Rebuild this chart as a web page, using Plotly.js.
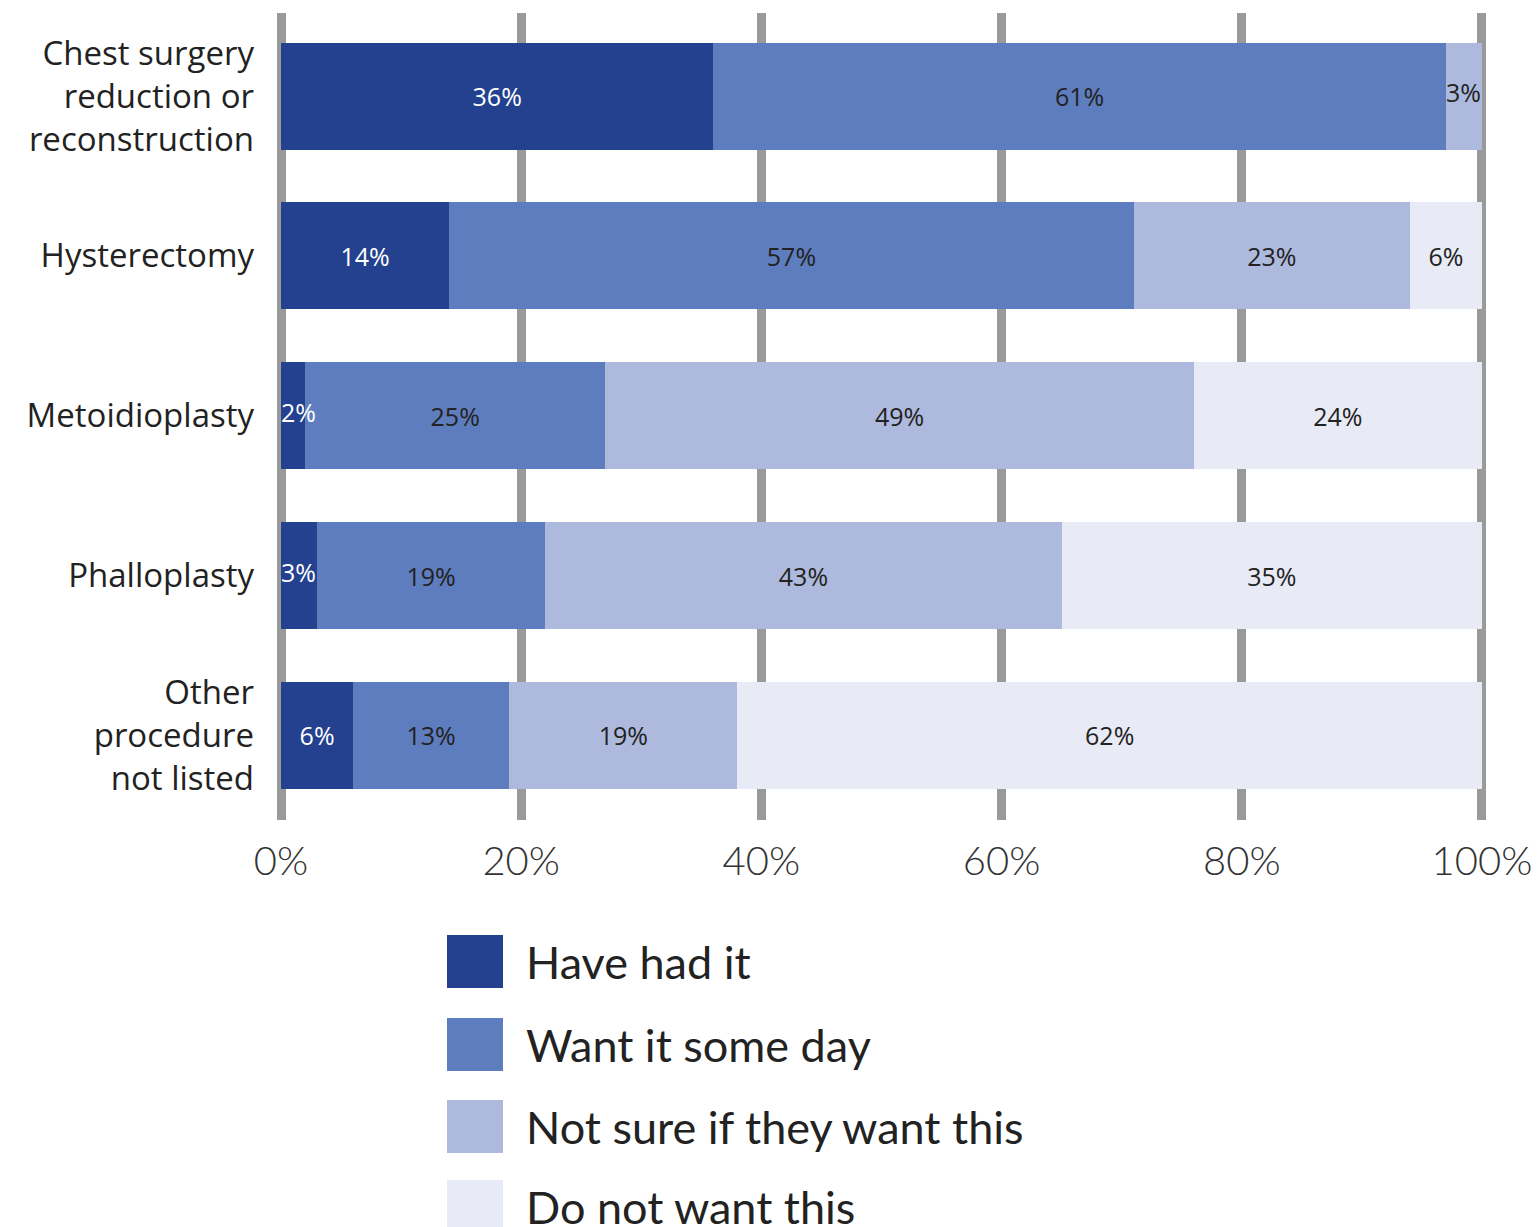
<!DOCTYPE html>
<html>
<head>
<meta charset="utf-8">
<script src="https://cdn.plot.ly/plotly-3.0.1.min.js"></script>
<style>html,body{margin:0;padding:0;background:#fff;}#chart{width:1538px;height:1227px;}</style>
</head>
<body>
<div id="chart"></div>
<script>
const categories = ["Chest surgery<br>reduction or<br>reconstruction", "Hysterectomy", "Metoidioplasty", "Phalloplasty", "Other<br>procedure<br>not listed"];
const seriesNames = ["Have had it", "Want it some day", "Not sure if they want this", "Do not want this"];
const haveHad = [36, 14, 2, 3, 6];
const wantSomeDay = [61, 57, 25, 19, 13];
const notSure = [3, 23, 49, 43, 19];
const doNotWant = [0, 6, 24, 35, 62];
const xTickVals = [0, 20, 40, 60, 80, 100];
const xTickText = ["0%", "20%", "40%", "60%", "80%", "100%"];

const colors = ["#23418e", "#5e7dbe", "#aebadd", "#e8eaf5"];
const textColors = ["#ffffff", "#222222", "#222222", "#222222"];
const seriesValues = [haveHad, wantSomeDay, notSure, doNotWant];
const SMALL = 5;
const labelFont = (c) => ({family: 'Open Sans, sans-serif', size: 25, color: c});

const traces = seriesValues.map((vals, i) => ({
  type: 'bar',
  orientation: 'h',
  name: seriesNames[i],
  y: categories,
  x: vals,
  text: vals.map(v => (v >= SMALL) ? v + '%' : ''),
  textposition: 'inside',
  insidetextanchor: 'middle',
  textangle: 0,
  constraintext: 'none',
  cliponaxis: false,
  textfont: labelFont(textColors[i]),
  marker: {color: colors[i], line: {width: 0}},
  hoverinfo: 'skip'
}));

// small segments: label starts at the segment's left edge
const smallX = [], smallY = [], smallT = [], smallC = [];
categories.forEach((cat, j) => {
  let cum = 0;
  seriesValues.forEach((vals, i) => {
    const v = vals[j];
    if (v > 0 && v < SMALL) {
      smallX.push(cum);
      smallY.push(cat);
      smallT.push(v + '%');
      smallC.push(textColors[i]);
    }
    cum += v;
  });
});
traces.push({
  type: 'scatter',
  mode: 'text',
  x: smallX,
  y: smallY,
  text: smallT,
  textposition: 'middle right',
  textfont: {family: 'Open Sans, sans-serif', size: 25, color: smallC},
  cliponaxis: false,
  hoverinfo: 'skip',
  showlegend: false
});

// custom legend (large squares)
const shapes = [];
const annotations = [];
const plotTop = 13, plotBottom = 820, plotH = plotBottom - plotTop;
const plotLeft = 279, plotW = 1205;
const legTops = [935, 1018, 1100, 1180];
seriesNames.forEach((name, i) => {
  const top = legTops[i], bot = top + 53;
  shapes.push({
    type: 'rect', xref: 'paper', yref: 'paper',
    x0: (447 - plotLeft) / plotW, x1: (503 - plotLeft) / plotW,
    y0: (plotBottom - bot) / plotH, y1: (plotBottom - top) / plotH,
    fillcolor: colors[i], line: {width: 0}
  });
  annotations.push({
    xref: 'paper', yref: 'paper',
    x: (524 - plotLeft) / plotW, y: (plotBottom - (top + 27)) / plotH,
    xanchor: 'left', yanchor: 'middle', showarrow: false,
    text: name,
    font: {family: 'Lato, sans-serif', size: 45, color: '#222222'}
  });
});

const layout = {
  width: 1538, height: 1227,
  margin: {l: 279, r: 54, t: 13, b: 407, pad: 0},
  paper_bgcolor: '#ffffff', plot_bgcolor: '#ffffff',
  barmode: 'stack',
  bargap: 0.33,
  showlegend: false,
  xaxis: {
    range: [-0.17, 100.17],
    tickvals: xTickVals,
    ticktext: xTickText,
    showgrid: true, gridcolor: '#9a9a9a', gridwidth: 9,
    zeroline: false, showline: false, ticks: '',
    ticklabelstandoff: 14,
    tickfont: {family: 'Lato, sans-serif', size: 40, color: '#333333', weight: 300},
    fixedrange: true
  },
  yaxis: {
    type: 'category',
    range: [4.53, -0.52],
    showgrid: false, zeroline: false, showline: false, ticks: '',
    ticklabelstandoff: 24,
    tickfont: {family: 'Open Sans, sans-serif', size: 33, color: '#222222'},
    fixedrange: true
  },
  shapes: shapes,
  annotations: annotations,
  font: {family: 'Open Sans, sans-serif'}
};

Plotly.newPlot('chart', traces, layout, {displayModeBar: false, staticPlot: true});
</script>
</body>
</html>
